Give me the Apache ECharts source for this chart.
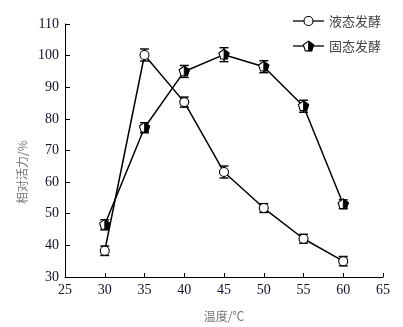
<!DOCTYPE html>
<html><head><meta charset="utf-8">
<script src="https://cdn.jsdelivr.net/npm/echarts@6/dist/echarts.min.js"></script>
<style>html,body{margin:0;padding:0;background:#fff}#c{width:403px;height:327px}</style>
</head><body><div id="c"></div>
<script>
const temps = [30, 35, 40, 45, 50, 55, 60];
const liquid = [38.3, 100.2, 85.3, 63.2, 51.8, 42.1, 35.0];
const liquidErr = [1.5, 1.9, 1.6, 1.9, 1.4, 1.4, 1.5];
const solid = [46.5, 77.2, 95.0, 100.3, 96.5, 84.0, 53.0];
const solidErr = [1.6, 1.6, 1.9, 2.2, 1.9, 1.9, 1.4];
const xTicks = [25, 30, 35, 40, 45, 50, 55, 60, 65];
const yTicks = [30, 40, 50, 60, 70, 80, 90, 100, 110];
const seriesNames = ['液态发酵', '固态发酵'];

const chart = echarts.init(document.getElementById('c'), null, {renderer: 'canvas'});
const serif = 'Liberation Serif';
const cjk = 'Noto Sans CJK SC';

function pts(vals) { return temps.map((t, i) => [t, vals[i]]); }
function errData(vals, errs) { return temps.map((t, i) => [t, vals[i], errs[i]]); }

function errItem(params, api) {
  const x = api.value(0), y = api.value(1), e = api.value(2);
  const top = api.coord([x, y + e]);
  const bot = api.coord([x, y - e]);
  const w = 4.5;
  const st = {stroke: '#000', lineWidth: 1.4};
  return {type: 'group', children: [
    {type: 'line', shape: {x1: top[0], y1: top[1], x2: bot[0], y2: bot[1]}, style: st},
    {type: 'line', shape: {x1: top[0] - w, y1: top[1], x2: top[0] + w, y2: top[1]}, style: st},
    {type: 'line', shape: {x1: bot[0] - w, y1: bot[1], x2: bot[0] + w, y2: bot[1]}, style: st}
  ]};
}
function circleItem(params, api) {
  const p = api.coord([api.value(0), api.value(1)]);
  return {type: 'circle', shape: {cx: p[0], cy: p[1], r: 4.5}, style: {fill: '#fff', stroke: '#000', lineWidth: 1.1}};
}
function pentShapes(cx, cy, r) {
  const v = [];
  for (let i = 0; i < 5; i++) {
    const a = (-90 + 72 * i) * Math.PI / 180;
    v.push([cx + r * Math.cos(a), cy + r * Math.sin(a)]);
  }
  const right = [v[0], v[1], v[2], [cx, v[2][1]]];
  return [
    {type: 'polygon', shape: {points: v}, style: {fill: '#fff', stroke: '#000', lineWidth: 1.1}},
    {type: 'polygon', shape: {points: right}, style: {fill: '#000', stroke: '#000', lineWidth: 0.8}}
  ];
}
function pentItem(params, api) {
  const p = api.coord([api.value(0), api.value(1)]);
  return {type: 'group', children: pentShapes(p[0], p[1], 5.4)};
}

// legend drawn as graphics
const legendG = [];
[0, 1].forEach(k => {
  const y = k === 0 ? 21 : 46;
  legendG.push({type: 'line', shape: {x1: 293, y1: y, x2: 324, y2: y}, style: {stroke: '#000', lineWidth: 1.3}, z: 10});
  if (k === 0) {
    legendG.push({type: 'circle', shape: {cx: 308.5, cy: y, r: 4.5}, style: {fill: '#fff', stroke: '#000', lineWidth: 1.1}, z: 11});
  } else {
    pentShapes(308.5, y + 0.5, 5.4).forEach(s => { s.z = 11; legendG.push(s); });
  }
  legendG.push({type: 'text', x: 329, y: y, style: {text: seriesNames[k], font: '13px "' + cjk + '"', fill: '#444', verticalAlign: 'middle'}, z: 11});
});
legendG.push({type: 'text', x: 22, y: 172, rotation: Math.PI / 2, style: {text: '相对活力/%', font: '12px "' + cjk + '"', fill: '#777', align: 'center', verticalAlign: 'middle'}});

chart.setOption({
  animation: false,
  backgroundColor: '#fff',
  grid: {left: 65, top: 24, right: 20, bottom: 44, containLabel: false},
  xAxis: {
    type: 'value', min: xTicks[0], max: xTicks[xTicks.length - 1], interval: 5,
    name: '温度/℃', nameLocation: 'middle', nameGap: 33,
    nameTextStyle: {fontFamily: cjk, fontSize: 12, color: '#777'},
    axisLine: {lineStyle: {color: '#000', width: 1}},
    axisTick: {inside: true, length: 4, lineStyle: {color: '#000'}},
    axisLabel: {fontFamily: serif, fontSize: 14, color: '#111128', margin: 6},
    splitLine: {show: false}
  },
  yAxis: {
    type: 'value', min: yTicks[0], max: yTicks[yTicks.length - 1], interval: 10,
    axisLine: {show: true, lineStyle: {color: '#000', width: 1}},
    axisTick: {show: true, inside: true, length: 5, lineStyle: {color: '#000'}},
    axisLabel: {fontFamily: serif, fontSize: 14, color: '#111128', margin: 6},
    splitLine: {show: false}
  },
  graphic: legendG,
  series: [
    {type: 'line', name: seriesNames[0], data: pts(liquid), symbol: 'none', lineStyle: {color: '#000', width: 1.5}, z: 2},
    {type: 'line', name: seriesNames[1], data: pts(solid), symbol: 'none', lineStyle: {color: '#000', width: 1.5}, z: 2},
    {type: 'custom', data: errData(liquid, liquidErr), renderItem: errItem, z: 3},
    {type: 'custom', data: errData(solid, solidErr), renderItem: errItem, z: 3},
    {type: 'custom', data: pts(liquid), renderItem: circleItem, z: 4},
    {type: 'custom', data: pts(solid), renderItem: pentItem, z: 4}
  ]
});
</script></body></html>
